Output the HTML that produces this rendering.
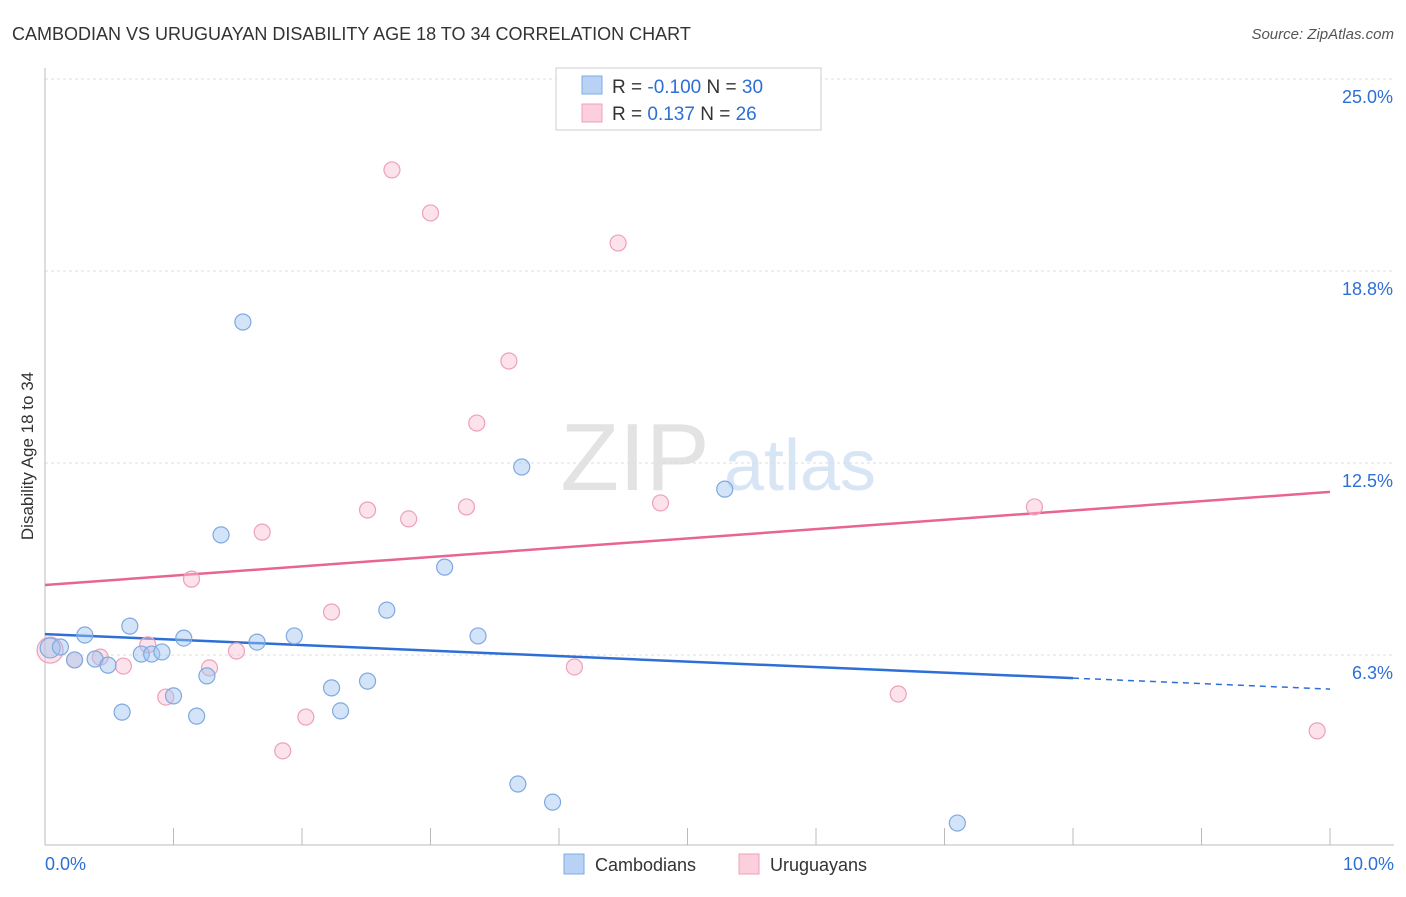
<!DOCTYPE html>
<html><head><meta charset="utf-8"><style>
body{margin:0;background:#fff;font-family:"Liberation Sans",sans-serif}
svg text{font-family:"Liberation Sans",sans-serif}
</style></head><body>
<svg id="chart" width="1406" height="892">
<text x="12" y="40" font-size="18" fill="#333">CAMBODIAN VS URUGUAYAN DISABILITY AGE 18 TO 34 CORRELATION CHART</text>
<text x="1394" y="39" font-size="15" fill="#555" text-anchor="end" font-style="italic">Source: ZipAtlas.com</text>
<text x="33" y="456" font-size="17" fill="#333" text-anchor="middle" transform="rotate(-90 33 456)">Disability Age 18 to 34</text>
<g><text x="635" y="490" font-size="96" fill="#e3e3e3" font-family="Liberation Serif" text-anchor="middle">ZIP</text><text x="800" y="490" font-size="72" fill="#d7e5f5" text-anchor="middle">atlas</text></g>
<g id="grid"></g><g id="axes"></g><g id="lines"></g><g id="pts"></g>
<g>
<rect x="556" y="68" width="265" height="62" fill="#fff" stroke="#ccc"/>
<rect x="582" y="76" width="20" height="18" fill="#b8d2f5" stroke="#7fa9e0"/>
<rect x="582" y="104" width="20" height="18" fill="#fbd0dc" stroke="#eea0b8"/>
<text x="612" y="93" font-size="19" fill="#333">R = <tspan fill="#2d6fd6">-0.100</tspan>   N = <tspan fill="#2d6fd6">30</tspan></text>
<text x="612" y="120" font-size="19" fill="#333">R =   <tspan fill="#2d6fd6">0.137</tspan>   N = <tspan fill="#2d6fd6">26</tspan></text>
</g>
<g>
<rect x="564" y="854" width="20" height="20" fill="#b8d2f5" stroke="#7fa9e0"/>
<text x="595" y="871" font-size="18" fill="#333">Cambodians</text>
<rect x="739" y="854" width="20" height="20" fill="#fbd0dc" stroke="#eea0b8"/>
<text x="770" y="871" font-size="18" fill="#333">Uruguayans</text>
</g>
</svg>
<script>
const blueX=[0.04,0.12,0.23,0.31,0.39,0.49,0.60,0.66,0.75,0.83,0.91,1.00,1.08,1.18,1.26,1.37,1.54,1.65,1.94,2.23,2.30,2.51,2.66,3.11,3.37,3.68,3.71,3.95,5.29,7.10];
const blueY=[6.48,6.51,6.09,6.90,6.12,5.92,4.39,7.19,6.28,6.28,6.35,4.92,6.80,4.26,5.57,10.16,17.09,6.67,6.87,5.18,4.43,5.40,7.71,9.11,6.87,2.05,12.37,1.46,11.65,0.78];
const pinkX=[0.04,0.23,0.43,0.61,0.80,0.94,1.14,1.28,1.49,1.69,1.85,2.03,2.23,2.51,2.70,2.83,3.00,3.28,3.36,3.61,4.12,4.46,4.79,6.64,7.70,9.90];
const pinkY=[6.41,6.09,6.18,5.89,6.58,4.88,8.72,5.83,6.38,10.25,3.13,4.23,7.65,10.97,22.04,10.68,20.64,11.07,13.80,15.82,5.86,19.66,11.20,4.98,11.07,3.78];
const blueTrend=[6.93,5.14];
const pinkTrend=[8.53,11.56];
const yTicks=[25.0,18.8,12.5,6.3];
const yTickVals=[25,18.75,12.5,6.25];
const NS="http://www.w3.org/2000/svg";
const sx=v=>45+v*128.5, sy=v=>847-v*30.72;
function mk(tag,attrs,parent){const e=document.createElementNS(NS,tag);for(const k in attrs)e.setAttribute(k,attrs[k]);document.getElementById(parent).appendChild(e);return e;}
yTickVals.forEach((v,i)=>{
 const g=mk('line',{x1:45,x2:1394,y1:sy(v),y2:sy(v),stroke:'#ddd','stroke-dasharray':'3,3'},'grid');
 
 
 const t=mk('text',{x:1393,y:sy(v)+24,'font-size':18,fill:'#2d6fd6','text-anchor':'end'},'grid');
 t.textContent=yTicks[i].toFixed(1)+'%';
 
 
});
mk('line',{x1:45,x2:45,y1:68,y2:845,stroke:'#bbb'},'axes');
mk('line',{x1:45,x2:1394,y1:845,y2:845,stroke:'#bbb'},'axes');
for(let i=1;i<=10;i++){const l=mk('line',{x1:sx(i),x2:sx(i),y1:828,y2:845,stroke:'#bbb'},'axes');
 
 }
let t0=mk('text',{x:45,y:870,'font-size':18,fill:'#2d6fd6'},'axes');t0.textContent='0.0%';


let t1=mk('text',{x:1394,y:870,'font-size':18,fill:'#2d6fd6','text-anchor':'end'},'axes');t1.textContent='10.0%';


function dot(x,y,r,fill,st,name){const c=mk('circle',{cx:sx(x),cy:sy(y),r:r,fill:fill,stroke:st,'stroke-width':1.2},'pts');
 
 }
pinkX.forEach((x,i)=>dot(x,pinkY[i],i===0?13:8,'rgba(248,190,208,0.45)','#eea0b8','uruguayan-point'));
blueX.forEach((x,i)=>dot(x,blueY[i],i===0?10:8,'rgba(160,196,240,0.45)','#7fa9e0','cambodian-point'));
const bm=blueTrend[0]+(blueTrend[1]-blueTrend[0])*0.8;
let l1=mk('line',{x1:sx(0),y1:sy(blueTrend[0]),x2:sx(8),y2:sy(bm),stroke:'#2d6fd6','stroke-width':2.5},'lines');


let l2=mk('line',{x1:sx(8),y1:sy(bm),x2:sx(10),y2:sy(blueTrend[1]),stroke:'#2d6fd6','stroke-width':1.5,'stroke-dasharray':'6,5'},'lines');


let l3=mk('line',{x1:sx(0),y1:sy(pinkTrend[0]),x2:sx(10),y2:sy(pinkTrend[1]),stroke:'#e86590','stroke-width':2.5},'lines');


</script>
</body></html>
